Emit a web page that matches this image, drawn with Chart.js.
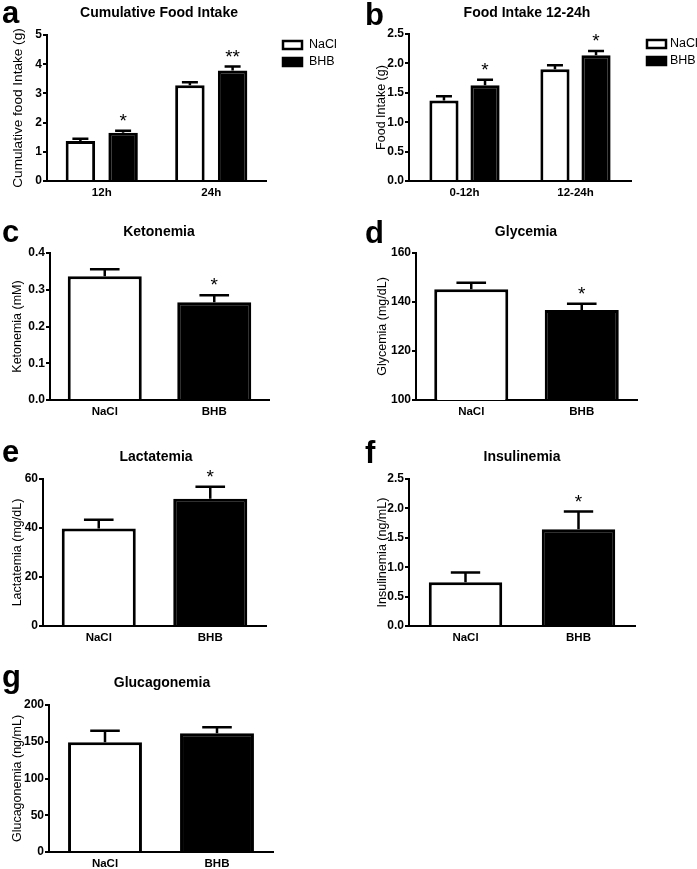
<!DOCTYPE html>
<html>
<head>
<meta charset="utf-8">
<script src="https://cdn.jsdelivr.net/npm/chart.js@4.4.0/dist/chart.umd.min.js"></script>
<style>
  body { margin: 0; background: #fff; width: 697px; height: 869px; position: relative; overflow: hidden; }
  canvas { position: absolute; }
</style>
</head>
<body>
<canvas id="pa" width="350" height="205" style="left:0;top:0"></canvas>
<canvas id="pb" width="347" height="205" style="left:350px;top:0"></canvas>
<canvas id="pc" width="350" height="230" style="left:0;top:200px"></canvas>
<canvas id="pd" width="347" height="230" style="left:350px;top:200px"></canvas>
<canvas id="pe" width="350" height="220" style="left:0;top:430px"></canvas>
<canvas id="pf" width="347" height="220" style="left:350px;top:430px"></canvas>
<canvas id="pg" width="350" height="224" style="left:0;top:650px"></canvas>
<script>
// values (mean, SEM)
const foodCats = ['12h', '24h'];
const foodNacl = [1.37, 3.28];
const foodNaclErr = [0.08, 0.10];
const foodBhb = [1.65, 3.78];
const foodBhbErr = [0.07, 0.14];
const foodStars = ['*', '**'];
const foodTicks = ['0', '1', '2', '3', '4', '5'];

const intakeCats = ['0-12h', '12-24h'];
const intakeNacl = [1.37, 1.90];
const intakeNaclErr = [0.07, 0.07];
const intakeBhb = [1.63, 2.14];
const intakeBhbErr = [0.09, 0.07];
const intakeStars = ['*', '*'];
const intakeTicks = ['0.0', '0.5', '1.0', '1.5', '2.0', '2.5'];

const groups = ['NaCl', 'BHB'];

const ketoVals = [0.337, 0.266];
const ketoErr = [0.019, 0.019];
const ketoStars = ['', '*'];
const ketoTicks = ['0.0', '0.1', '0.2', '0.3', '0.4'];

const glyVals = [145.2, 136.7];
const glyErr = [2.7, 2.6];
const glyStars = ['', '*'];
const glyTicks = ['100', '120', '140', '160'];

const lacVals = [39.8, 51.9];
const lacErr = [3.6, 4.9];
const lacStars = ['', '*'];
const lacTicks = ['0', '20', '40', '60'];

const insVals = [0.745, 1.647];
const insErr = [0.165, 0.30];
const insStars = ['', '*'];
const insTicks = ['0.0', '0.5', '1.0', '1.5', '2.0', '2.5'];

const gluVals = [149.2, 161.5];
const gluErr = [15.8, 8.1];
const gluStars = ['', ''];
const gluTicks = ['0', '50', '100', '150', '200'];

const FONT = '"Liberation Sans", Arial, sans-serif';
Chart.defaults.font.family = FONT;
Chart.defaults.color = '#000';
Chart.defaults.animation = false;

const AW = 42, XH = 20;

// error bars, stars, title, panel letter, legend
const annot = {
  id: 'annot',
  afterDatasetsDraw(chart) {
    const ctx = chart.ctx, y = chart.scales.y;
    ctx.save();
    ctx.strokeStyle = '#000';
    ctx.fillStyle = '#000';
    ctx.lineWidth = 2.5;
    ctx.textAlign = 'center';
    ctx.textBaseline = 'alphabetic';
    ctx.font = '19px ' + FONT;
    chart.data.datasets.forEach((ds, di) => {
      chart.getDatasetMeta(di).data.forEach((bar, i) => {
        const top = y.getPixelForValue(ds.data[i] + ds.err[i]);
        const half = Math.max(8, bar.width * 0.2);
        ctx.beginPath();
        ctx.moveTo(bar.x, bar.y);
        ctx.lineTo(bar.x, top);
        ctx.moveTo(bar.x - half, top);
        ctx.lineTo(bar.x + half, top);
        ctx.stroke();
        if (ds.stars[i]) ctx.fillText(ds.stars[i], bar.x, top - 4);
      });
    });
    ctx.restore();
  },
  afterDraw(chart, args, o) {
    const ctx = chart.ctx;
    ctx.save();
    ctx.fillStyle = '#000';
    ctx.textAlign = 'center';
    ctx.textBaseline = 'middle';
    ctx.font = 'bold 14px ' + FONT;
    ctx.fillText(o.title, o.titleX, o.titleY);
    ctx.textAlign = 'left';
    ctx.textBaseline = 'alphabetic';
    ctx.font = 'bold 31px ' + FONT;
    ctx.fillText(o.letter, o.letterX, o.letterY);
    if (o.legend) {
      ctx.font = '12.5px ' + FONT;
      ctx.textBaseline = 'middle';
      chart.data.datasets.forEach((ds, i) => {
        const ly = o.legend.y + i * 17;
        ctx.fillStyle = ds.backgroundColor;
        ctx.fillRect(o.legend.x, ly, 19, 8);
        ctx.lineWidth = 2.5;
        ctx.strokeStyle = '#000';
        ctx.strokeRect(o.legend.x, ly, 19, 8);
        ctx.fillStyle = '#000';
        ctx.fillText(ds.label, o.legend.tx, ly + 4);
      });
    }
    ctx.restore();
  }
};

function panel(id, p) {
  const cv = document.getElementById(id);
  const W = cv.width, H = cv.height;
  const ticks = p.ticks.map(Number);
  const ts = p.yTitleSize || 12.5;
  new Chart(cv, {
    type: 'bar',
    data: { labels: p.labels, datasets: p.datasets },
    options: {
      responsive: false,
      categoryPercentage: p.catPct,
      barPercentage: p.barPct,
      layout: { padding: { left: p.area[0] - AW, top: p.area[1], right: W - p.area[2], bottom: H - p.area[3] - XH } },
      plugins: {
        legend: { display: false },
        tooltip: { enabled: false },
        annot: p.annot
      },
      scales: {
        x: {
          grid: { display: false, drawTicks: false },
          border: { color: '#000', width: 2 },
          ticks: { font: { size: 11.5, weight: 'bold' }, padding: 5, maxRotation: 0 },
          afterFit: s => { s.height = XH; }
        },
        y: {
          min: ticks[0],
          max: ticks[ticks.length - 1],
          afterBuildTicks: s => { s.ticks = ticks.map(v => ({ value: v })); },
          grid: { drawOnChartArea: false, drawTicks: true, tickLength: 4, color: '#000', lineWidth: 2 },
          border: { color: '#000', width: 2 },
          ticks: { font: { size: 12, weight: 'bold' }, padding: 1, callback: (v, i) => p.ticks[i] },
          title: {
            display: true, text: p.yTitle, font: { size: ts, lineHeight: 1.2 },
            padding: { top: p.yTitleX - (p.area[0] - AW) - ts * 0.6, bottom: 0 }
          },
          afterFit: s => { s.width = AW; }
        }
      }
    },
    plugins: [annot]
  });
}

function pair(nacl, naclErr, bhb, bhbErr, stars) {
  return [
    { label: 'NaCl', data: nacl, err: naclErr, stars: ['', ''], backgroundColor: '#fff', borderColor: '#000', borderWidth: 3 },
    { label: 'BHB', data: bhb, err: bhbErr, stars: stars, backgroundColor: '#000', borderColor: '#000', borderWidth: 3 }
  ];
}

function single(vals, err, stars) {
  return [{ label: '', data: vals, err: err, stars: stars, backgroundColor: ['#fff', '#000'], borderColor: '#000', borderWidth: 3 }];
}

panel('pa', {
  labels: foodCats, datasets: pair(foodNacl, foodNaclErr, foodBhb, foodBhbErr, foodStars),
  ticks: foodTicks, yTitle: 'Cumulative food Intake (g)', yTitleX: 18, yTitleSize: 13.6,
  area: [47, 35, 266, 181], catPct: 0.78, barPct: 0.69,
  annot: { title: 'Cumulative Food Intake', titleX: 159, titleY: 13, letter: 'a', letterX: 2, letterY: 23, legend: { x: 283, y: 41, tx: 309 } }
});
panel('pb', {
  labels: intakeCats, datasets: pair(intakeNacl, intakeNaclErr, intakeBhb, intakeBhbErr, intakeStars),
  ticks: intakeTicks, yTitle: 'Food Intake (g)', yTitleX: 32,
  area: [59, 34, 281, 181], catPct: 0.74, barPct: 0.71,
  annot: { title: 'Food Intake 12-24h', titleX: 177, titleY: 13, letter: 'b', letterX: 15, letterY: 25, legend: { x: 297, y: 40, tx: 320 } }
});
panel('pc', {
  labels: groups, datasets: single(ketoVals, ketoErr, ketoStars),
  ticks: ketoTicks, yTitle: 'Ketonemia (mM)', yTitleX: 18,
  area: [50, 53, 269, 200], catPct: 1, barPct: 0.676,
  annot: { title: 'Ketonemia', titleX: 159, titleY: 32, letter: 'c', letterX: 2, letterY: 42 }
});
panel('pd', {
  labels: groups, datasets: single(glyVals, glyErr, glyStars),
  ticks: glyTicks, yTitle: 'Glycemia (mg/dL)', yTitleX: 33,
  area: [66, 53, 287, 200], catPct: 1, barPct: 0.67,
  annot: { title: 'Glycemia', titleX: 176, titleY: 32, letter: 'd', letterX: 15, letterY: 43 }
});
panel('pe', {
  labels: groups, datasets: single(lacVals, lacErr, lacStars),
  ticks: lacTicks, yTitle: 'Lactatemia (mg/dL)', yTitleX: 18,
  area: [43, 49, 266, 196], catPct: 1, barPct: 0.664,
  annot: { title: 'Lactatemia', titleX: 156, titleY: 27, letter: 'e', letterX: 2, letterY: 32 }
});
panel('pf', {
  labels: groups, datasets: single(insVals, insErr, insStars),
  ticks: insTicks, yTitle: 'Insulinemia (ng/mL)', yTitleX: 33,
  area: [59, 49, 285, 196], catPct: 1, barPct: 0.65,
  annot: { title: 'Insulinemia', titleX: 172, titleY: 27, letter: 'f', letterX: 15, letterY: 33 }
});
panel('pg', {
  labels: groups, datasets: single(gluVals, gluErr, gluStars),
  ticks: gluTicks, yTitle: 'Glucagonemia (ng/mL)', yTitleX: 18,
  area: [49, 55, 273, 202], catPct: 1, barPct: 0.66,
  annot: { title: 'Glucagonemia', titleX: 162, titleY: 33, letter: 'g', letterX: 2, letterY: 37 }
});
</script>
</body>
</html>
